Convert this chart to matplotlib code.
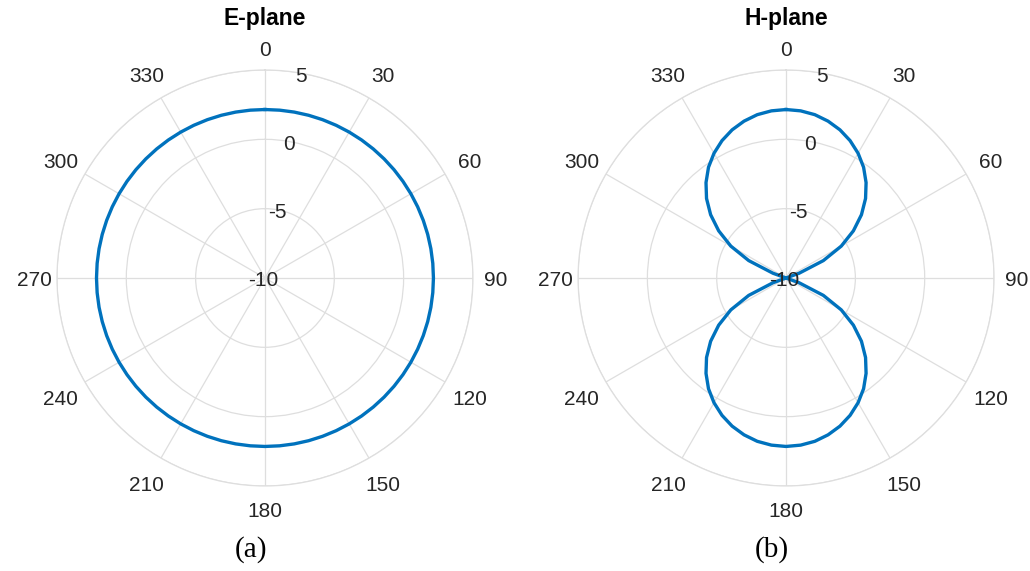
import numpy as np
import matplotlib.pyplot as plt
from matplotlib.transforms import offset_copy

plt.rcParams['font.family'] = ['Liberation Sans', 'DejaVu Sans']

# angles in degrees, 5 degree steps over one half of the pattern
angles_half = list(range(0, 185, 5))

# E-plane gain (dBi), omnidirectional
e_plane_db = 2.15

# H-plane gain (dBi) from 0 to 180 degrees
h_plane_half = [2.15, 2.10, 1.96, 1.71, 1.37, 0.93, 0.39, -0.25, -1.02,
                -1.89, -2.90, -4.07, -5.40, -7.03, -9.00, -10.0, -10.0, -10.0,
                -10.0,
                -10.0, -10.0, -10.0, -9.00, -7.03, -5.40, -4.07, -2.90,
                -1.89, -1.02, -0.25, 0.39, 0.93, 1.37, 1.71, 1.96, 2.10, 2.15]

theta_ticks = list(range(0, 360, 30))
r_ticks = [-10, -5, 0, 5]
r_min, r_max = -10, 5

# the pattern is symmetric about the 0-180 axis
angles_full = angles_half + [360 - a for a in angles_half[-2::-1]]
h_plane_full = h_plane_half + h_plane_half[-2::-1]

text_col = '#262626'
grid_col = '#dedede'
line_col = '#0072BD'

fig = plt.figure(figsize=(10.30, 5.71), dpi=100)

panels = [
    (0.0553, 'E-plane', '(a)', [e_plane_db] * len(angles_full)),
    (0.5612, 'H-plane', '(b)', h_plane_full),
]

for left, title, caption, gain in panels:
    ax = fig.add_axes([left, 0.1489, 0.4039, 0.7285], projection='polar')
    ax.set_theta_zero_location('N')
    ax.set_theta_direction(-1)
    ax.set_rlim(r_min, r_max)

    ax.plot(np.deg2rad(angles_full), gain, color=line_col, lw=2.4,
            solid_joinstyle='round', zorder=3)

    ax.set_thetagrids(theta_ticks, labels=[])
    ax.set_yticks(r_ticks)
    ax.set_yticklabels([])
    ax.grid(True, color=grid_col, lw=0.9)
    ax.spines['polar'].set_color(grid_col)
    ax.spines['polar'].set_linewidth(0.9)

    # angle labels outside the rim, diagonal ones pushed out a little more
    for t in theta_ticks:
        a = np.deg2rad(t)
        ext = 23 + 6 * abs(np.sin(2 * a))
        tr = offset_copy(ax.transData, fig=fig, x=ext * np.sin(a),
                         y=ext * np.cos(a) - 3, units='dots')
        ax.text(a, r_max, str(t), fontsize=15, color=text_col, transform=tr,
                ha='center', va='center', clip_on=False)

    # radial labels sit just right of the 0 degree spoke
    for r in r_ticks:
        if r == r_min:
            ang, dx = 0, -2
        else:
            ang, dx = np.deg2rad(10), 0
        tr = offset_copy(ax.transData, fig=fig, x=dx, y=-3, units='dots')
        ax.text(ang, r, str(r), fontsize=15, color=text_col, transform=tr,
                ha='center', va='center', zorder=4)

    ax.text(0.5, 1.125, title, transform=ax.transAxes, ha='center',
            va='center', fontsize=16.5, fontweight='bold', color='black')
    ax.text(0.466, -0.153, caption, transform=ax.transAxes, ha='center',
            va='center', fontsize=21, family=['Liberation Serif'],
            color='black')

fig.savefig('out.png', dpi=100)
